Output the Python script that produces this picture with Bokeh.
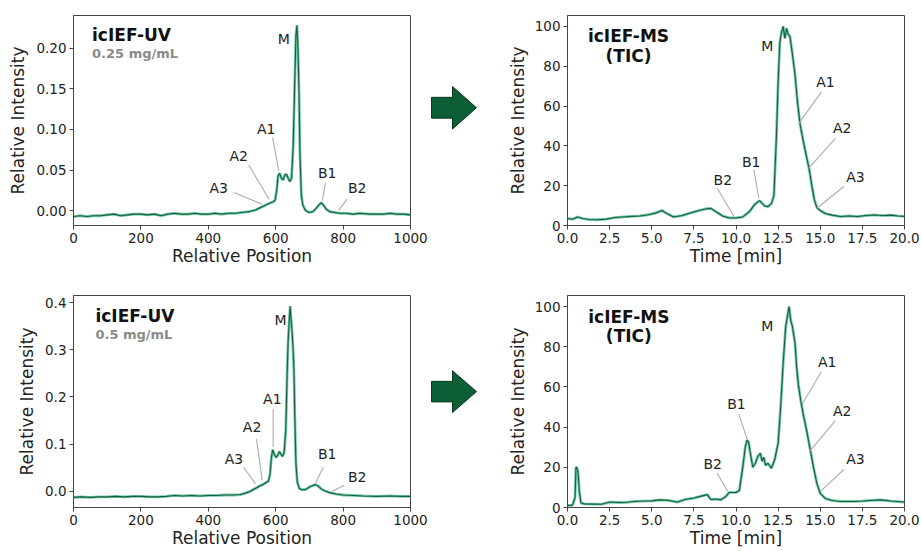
from bokeh.plotting import figure
from bokeh.layouts import row, column
from bokeh.models import Range1d, FixedTicker, PrintfTickFormatter
from bokeh.embed import file_html
from bokeh.resources import INLINE
from bokeh.core.properties import value

# ---------------- data ----------------
uv1_pos = [0, 20, 40, 60, 80, 100, 120, 140, 160, 180, 200, 220, 240, 260, 280, 300, 320, 340, 360, 380,
           400, 420, 440, 460, 480, 500, 520, 540, 555, 565, 575, 585, 592, 598, 603, 607, 612, 617, 622, 627,
           632, 637, 642, 647, 652, 656, 660, 663, 666, 669, 672, 676, 680, 685, 690, 700, 710, 720, 728, 735,
           742, 750, 760, 775, 790, 810, 830, 850, 880, 900, 920, 940, 960, 980, 1000]
uv1_int = [-0.007, -0.006, -0.007, -0.006, -0.006, -0.005, -0.004, -0.006, -0.005, -0.004, -0.004, -0.005,
           -0.004, -0.006, -0.004, -0.003, -0.004, -0.004, -0.003, -0.004, -0.004, -0.003, -0.004, -0.003,
           -0.003, -0.002, -0.001, 0.001, 0.004, 0.006, 0.008, 0.010, 0.011, 0.013, 0.025, 0.043, 0.046, 0.040,
           0.038, 0.044, 0.045, 0.040, 0.036, 0.040, 0.080, 0.150, 0.215, 0.228, 0.200, 0.150, 0.070, 0.020,
           0.008, 0.003, 0.000, -0.002, -0.001, 0.003, 0.007, 0.010, 0.007, 0.002, -0.001, -0.002, -0.003,
           -0.003, -0.004, -0.003, -0.004, -0.004, -0.004, -0.003, -0.004, -0.004, -0.005]

uv2_pos = [0, 25, 50, 75, 100, 125, 150, 175, 200, 225, 250, 275, 300, 325, 350, 375, 400, 425, 450, 475,
           495, 510, 525, 535, 545, 555, 562, 570, 578, 583, 587, 591, 596, 601, 606, 611, 615, 620, 625, 630,
           634, 637, 640, 643, 645, 648, 651, 654, 657, 660, 664, 670, 678, 690, 700, 710, 718, 726, 735, 745,
           760, 780, 800, 830, 860, 900, 940, 970, 1000]
uv2_int = [-0.013, -0.012, -0.013, -0.012, -0.012, -0.011, -0.012, -0.011, -0.011, -0.012, -0.012, -0.011,
           -0.009, -0.010, -0.009, -0.010, -0.009, -0.009, -0.008, -0.008, -0.007, -0.004, 0.000, 0.004, 0.008,
           0.012, 0.014, 0.018, 0.021, 0.035, 0.070, 0.088, 0.078, 0.072, 0.076, 0.084, 0.079, 0.074, 0.082,
           0.130, 0.250, 0.320, 0.360, 0.392, 0.370, 0.345, 0.310, 0.260, 0.150, 0.060, 0.020, 0.006, 0.003,
           0.004, 0.009, 0.012, 0.014, 0.011, 0.005, 0.001, -0.003, -0.006, -0.008, -0.009, -0.010, -0.011,
           -0.010, -0.011, -0.011]

ms1_t = [0, 0.3, 0.6, 0.9, 1.3, 1.8, 2.3, 2.8, 3.3, 3.8, 4.3, 4.8, 5.2, 5.6, 5.9, 6.3, 6.8, 7.3, 7.8, 8.2,
         8.5, 8.8, 9.2, 9.6, 10.0, 10.4, 10.8, 11.1, 11.4, 11.7, 11.9, 12.1, 12.25, 12.4, 12.5, 12.6, 12.7,
         12.8, 12.9, 13.0, 13.1, 13.2, 13.35, 13.5, 13.65, 13.8, 14.0, 14.2, 14.35, 14.5, 14.65, 14.8, 15.0,
         15.3, 15.7, 16.2, 16.7, 17.2, 17.7, 18.2, 18.7, 19.2, 19.6, 20.0]
ms1_int = [3.5, 3.2, 4.3, 3.5, 3.0, 2.9, 3.2, 4.0, 4.3, 4.6, 4.8, 5.4, 6.2, 7.5, 6.0, 4.3, 5.0, 6.3, 7.5, 8.3,
           8.6, 7.0, 4.8, 3.8, 3.8, 4.3, 7.0, 10.5, 12.5, 9.8, 9.5, 11.0, 15.0, 45.0, 72.0, 92.0, 97.0, 100.0,
           94.0, 99.0, 96.0, 95.0, 86.0, 76.0, 62.0, 51.0, 42.0, 34.0, 28.0, 20.0, 13.0, 9.0, 7.5, 6.0, 5.2,
           4.5, 4.8, 4.5, 5.0, 5.3, 5.0, 5.2, 4.8, 4.6]

ms2_t = [0, 0.3, 0.45, 0.5, 0.55, 0.62, 0.7, 0.8, 1.0, 1.5, 2.0, 2.5, 3.0, 3.5, 4.0, 4.5, 5.0, 5.5, 6.0, 6.5,
         7.0, 7.5, 8.0, 8.3, 8.5, 8.8, 9.1, 9.4, 9.6, 10.0, 10.2, 10.4, 10.55, 10.65, 10.75, 10.85, 11.0,
         11.15, 11.3, 11.45, 11.55, 11.65, 11.75, 11.9, 12.1, 12.3, 12.5, 12.65, 12.8, 12.95, 13.05, 13.15,
         13.25, 13.35, 13.5, 13.6, 13.7, 13.85, 14.0, 14.2, 14.4, 14.6, 14.8, 15.0, 15.3, 15.7, 16.2, 17.0,
         17.5, 18.0, 18.6, 19.2, 20.0]
ms2_int = [1.0, 1.2, 5.0, 19.8, 20.0, 18.0, 8.0, 2.2, 1.8, 1.7, 1.6, 2.7, 2.5, 2.6, 3.0, 3.2, 3.3, 3.8, 3.5,
           2.7, 4.0, 4.7, 5.8, 6.4, 4.0, 4.2, 3.8, 5.5, 7.5, 7.5, 8.5, 20.0, 30.0, 33.5, 32.5, 27.0, 20.0,
           22.0, 25.5, 27.0, 23.0, 25.0, 21.0, 22.0, 19.5, 24.0, 32.0, 50.0, 72.0, 90.0, 95.0, 100.0, 93.0,
           90.0, 82.0, 70.0, 61.0, 53.0, 46.0, 38.0, 29.0, 20.0, 12.0, 7.0, 4.5, 3.5, 3.0, 3.0, 3.2, 3.5, 3.8,
           3.2, 2.7]

peak_names = ["M", "A1", "A2", "A3", "B1", "B2"]

# label position (x, y) and leader line (x0, y0, x1, y1) per peak; M has no leader line
uv1_lab_x = [624, 572, 490, 431, 753, 842]
uv1_lab_y = [0.211, 0.101, 0.0675, 0.0286, 0.047, 0.0286]
uv1_ln = [(591, 0.090, 609, 0.049), (520, 0.0564, 580, 0.0143), (476, 0.0225, 560, 0.0082),
          (748, 0.0347, 738, 0.0123), (812, 0.0143, 787, 0.0008)]

uv2_lab_x = [614, 590, 530, 476, 753, 842]
uv2_lab_y = [0.362, 0.196, 0.1356, 0.0686, 0.079, 0.0297]
uv2_ln = [(592.5, 0.175, 592.5, 0.093), (543, 0.111, 560, 0.0227), (505, 0.0508, 540, 0.0157),
          (741, 0.0508, 718, 0.017), (802, 0.012, 768, 0.0)]

ms1_lab_x = [11.85, 15.31, 16.3, 17.09, 10.9, 9.22]
ms1_lab_y = [90.4, 72.0, 48.8, 24.6, 32.1, 23.0]
ms1_ln = [(15.06, 67.0, 13.73, 51.3), (15.9, 43.8, 14.32, 28.8), (16.4, 19.6, 14.82, 8.8),
          (11.06, 28.0, 11.35, 13.8), (8.88, 18.8, 9.87, 4.6)]

ms2_lab_x = [11.85, 15.41, 16.3, 17.09, 10.03, 8.62]
ms2_lab_y = [90.3, 72.4, 48.2, 23.9, 51.5, 21.7]
ms2_ln = [(15.06, 67.4, 13.93, 51.5), (15.9, 43.2, 14.38, 28.1), (16.4, 18.9, 15.01, 8.0),
          (10.17, 46.5, 10.66, 34.0), (8.88, 17.2, 9.51, 8.0)]

uv_x_ticks = [0, 200, 400, 600, 800, 1000]
uv1_y_ticks = [0.0, 0.05, 0.10, 0.15, 0.20]
uv2_y_ticks = [0.0, 0.1, 0.2, 0.3, 0.4]
ms_x_ticks = [0.0, 2.5, 5.0, 7.5, 10.0, 12.5, 15.0, 17.5, 20.0]
ms_y_ticks = [0, 20, 40, 60, 80, 100]

# ---------------- style ----------------
FONT = "DejaVu Sans"
FRAME = "#444444"
TXT = "#222222"


def panel(x, y, xr, yr, xticks, yticks, xfmt, yfmt, xlabel, w, h, bl, br, bt, bb, ylab_standoff):
    p = figure(width=w, height=h, x_range=Range1d(*xr), y_range=Range1d(*yr),
               output_backend="svg", toolbar_location=None,
               min_border_left=bl, min_border_right=br, min_border_top=bt, min_border_bottom=bb)
    p.grid.visible = False
    p.outline_line_color = FRAME
    p.outline_line_width = 1
    p.line(x, y, line_color="#5cbf96", line_width=2.8, line_alpha=0.85)
    p.line(x, y, line_color="#155f3f", line_width=1.1)
    p.xaxis.ticker = FixedTicker(ticks=xticks)
    p.yaxis.ticker = FixedTicker(ticks=yticks)
    p.xaxis.formatter = PrintfTickFormatter(format=xfmt)
    p.yaxis.formatter = PrintfTickFormatter(format=yfmt)
    p.xaxis.axis_label = xlabel
    p.yaxis.axis_label = "Relative Intensity"
    for ax in (p.xaxis[0], p.yaxis[0]):
        ax.axis_line_color = FRAME
        ax.major_tick_line_color = FRAME
        ax.minor_tick_line_color = None
        ax.major_tick_out = 4
        ax.major_tick_in = 0
        ax.major_label_standoff = 3
        ax.major_label_text_font = FONT
        ax.major_label_text_font_size = "13.5px"
        ax.major_label_text_color = TXT
        ax.axis_label_text_font = FONT
        ax.axis_label_text_font_size = "17px"
        ax.axis_label_text_font_style = "normal"
        ax.axis_label_text_color = TXT
    p.xaxis.axis_label_standoff = 0
    p.yaxis.axis_label_standoff = ylab_standoff
    return p


def annotate(p, lab_x, lab_y, lines):
    p.segment([l[0] for l in lines], [l[1] for l in lines], [l[2] for l in lines], [l[3] for l in lines],
              line_color="#b3a9a9", line_width=1.1)
    p.text(lab_x, lab_y, text=peak_names, text_font=value(FONT), text_font_size="14px",
           text_color=TXT, text_align="center", text_baseline="middle")


def uv_title(p, x, y1, y2, sub):
    p.text([x], [y1], text=["icIEF-UV"], text_font=value(FONT), text_font_size="17px",
           text_font_style="bold", text_color="#111111", text_align="left", text_baseline="middle")
    p.text([x], [y2], text=[sub], text_font=value(FONT), text_font_size="13px",
           text_font_style="bold", text_color="#8a8a8a", text_align="left", text_baseline="middle")


def ms_title(p, x, y1, y2):
    p.text([x, x], [y1, y2], text=["icIEF-MS", "(TIC)"], text_font=value(FONT), text_font_size="17px",
           text_font_style="bold", text_color="#111111", text_align="center", text_baseline="middle")


ARROW_X = [1, 22, 22, 46, 22, 22, 1]
ARROW_DY = [-13.5, -13.5, -27.5, 0, 27.5, 13.5, 13.5]


def arrow_fig(w, h, cy):
    a = figure(width=w, height=h, x_range=Range1d(0, w), y_range=Range1d(h, 0),
               output_backend="svg", toolbar_location=None,
               x_axis_location=None, y_axis_location=None, min_border=0)
    a.grid.visible = False
    a.outline_line_color = None
    a.patch(ARROW_X, [cy + d for d in ARROW_DY], fill_color="#0c5e37", line_color="#07391f", line_width=1)
    return a


H1, H2 = 272, 279
WL, WA, WR = 430, 60, 431

p1 = panel(uv1_pos, uv1_int, (0, 1000), (-0.018, 0.240), uv_x_ticks, uv1_y_ticks, "%d", "%.2f",
           "Relative Position", WL, H1, 73, 20, 15, 47, 5)
annotate(p1, uv1_lab_x, uv1_lab_y, uv1_ln)
uv_title(p1, 55, 0.216, 0.193, "0.25 mg/mL")

p2 = panel(ms1_t, ms1_int, (0, 20), (0, 105.5), ms_x_ticks, ms_y_ticks, "%.1f", "%d",
           "Time [min]", WR, H1, 77, 17, 15, 47, 4)
annotate(p2, ms1_lab_x, ms1_lab_y, ms1_ln)
ms_title(p2, 3.62, 95.4, 85.4)

p3 = panel(uv2_pos, uv2_int, (0, 1000), (-0.0345, 0.415), uv_x_ticks, uv2_y_ticks, "%d", "%.1f",
           "Relative Position", WL, H2, 73, 20, 23, 44, 5)
annotate(p3, uv2_lab_x, uv2_lab_y, uv2_ln)
uv_title(p3, 65, 0.372, 0.333, "0.5 mg/mL")

p4 = panel(ms2_t, ms2_int, (0, 20), (0, 105.5), ms_x_ticks, ms_y_ticks, "%.1f", "%d",
           "Time [min]", WR, H2, 77, 17, 23, 44, 4)
annotate(p4, ms2_lab_x, ms2_lab_y, ms2_ln)
ms_title(p4, 3.64, 95.0, 85.3)

a1 = arrow_fig(WA, H1, 119.5)
a2 = arrow_fig(WA, H2, 126.5)

layout = column(row(p1, a1, p2), row(p3, a2, p4))

open("out.html", "w").write(file_html(layout, INLINE))
